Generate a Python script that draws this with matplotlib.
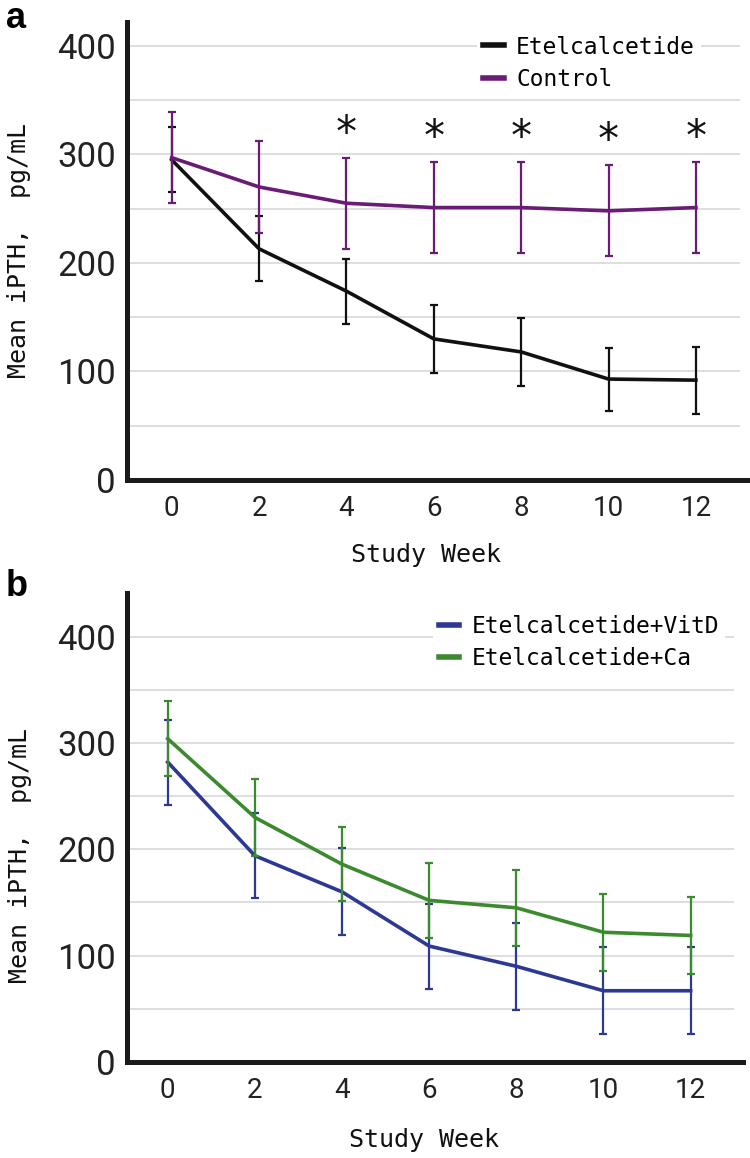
import matplotlib
matplotlib.use('Agg')
import matplotlib.pyplot as plt

weeks = [0, 2, 4, 6, 8, 10, 12]
week_ticks = [0, 2, 4, 6, 8, 10, 12]
y_ticks = [0, 100, 200, 300, 400]

# panel a
etel = [295, 213, 174, 130, 118, 93, 92]
etel_err = [30, 30, 30, 31, 31, 29, 31]
ctl = [297, 270, 255, 251, 251, 248, 251]
ctl_err = [42, 42, 42, 42, 42, 42, 42]
star_weeks = [4, 6, 8, 10, 12]

# panel b
vitd = [282, 194, 160, 109, 90, 67, 67]
vitd_err = [40, 40, 41, 40, 41, 41, 41]
ca = [304, 230, 186, 152, 145, 122, 119]
ca_err = [35, 36, 35, 35, 36, 36, 36]

MONO = ['DejaVu Sans Mono']
NARROW = ['Roboto', 'DejaVu Sans']


def drawSeries(ax, y, err, color, label, z):
	ax.errorbar(weeks, y, yerr=err, fmt='none', ecolor=color, elinewidth=1.6,
		capsize=2.6, capthick=1.6, zorder=z)
	line, = ax.plot(weeks, y, color=color, lw=2.6, label=label, zorder=z + 1,
		solid_joinstyle='round')
	return line


def styleAxes(ax, ylim, xlim):
	ax.set_xlim(*xlim)
	ax.set_ylim(*ylim)
	for s in ['top', 'right']:
		ax.spines[s].set_visible(False)
	for s in ['left', 'bottom']:
		ax.spines[s].set_linewidth(3.6)
		ax.spines[s].set_color('#1a1a1a')
		ax.spines[s].set_capstyle('projecting')
	ax.hlines(range(50, int(ylim[1]), 50), xlim[0], 13.0, colors='#d4d4d4',
		lw=1.1, zorder=0)
	ax.set_xticks(week_ticks)
	ax.set_yticks(y_ticks)
	ax.tick_params(length=0)
	ax.tick_params(axis='y', pad=8)
	ax.tick_params(axis='x', pad=11)
	for t in ax.get_yticklabels():
		t.set_family(NARROW)
		t.set_fontstretch('condensed')
		t.set_fontsize(25)
		t.set_color('#222222')
	for t in ax.get_xticklabels():
		t.set_family(NARROW)
		t.set_fontstretch('condensed')
		t.set_fontsize(20)
		t.set_color('#222222')


def addLegend(ax, handles, anchor):
	leg = ax.legend(handles=handles, loc='upper left', bbox_to_anchor=anchor,
		prop={'family': MONO, 'size': 16.5}, frameon=True, fancybox=False,
		handlelength=0.9, handletextpad=0.55, labelspacing=0.42, borderpad=0.25,
		borderaxespad=0)
	leg.get_frame().set_edgecolor('none')
	leg.get_frame().set_facecolor('white')
	leg.get_frame().set_alpha(1)
	for h in leg.legend_handles:
		h.set_linewidth(4)
	return leg


fig = plt.figure(figsize=(7.5, 11.58), dpi=100)

# --- panel a ---
axA = fig.add_axes([0.169, 0.5855, 0.827, 0.3955])
styleAxes(axA, (0, 422), (-1.03, 13.17))
lA1 = drawSeries(axA, etel, etel_err, '#111111', 'Etelcalcetide', 3)
lA2 = drawSeries(axA, ctl, ctl_err, '#6a1b76', 'Control', 5)
for w in star_weeks:
	i = weeks.index(w)
	axA.text(w, ctl[i] + ctl_err[i] + 22, '*', ha='center', va='center',
		fontsize=30, family=MONO, color='#111111')
addLegend(axA, [lA1, lA2], (0.565, 0.983))
axA.text(-0.173, 0.5, 'Mean iPTH,  pg/mL', transform=axA.transAxes, rotation=90,
	ha='center', va='center', family=MONO, fontsize=18, color='#111111')
axA.text(0.482, -0.164, 'Study Week', transform=axA.transAxes, ha='center',
	va='center', family=MONO, fontsize=18, color='#111111')

# --- panel b ---
axB = fig.add_axes([0.169, 0.0829, 0.821, 0.405])
styleAxes(axB, (0, 441), (-0.94, 13.19))
lB1 = drawSeries(axB, vitd, vitd_err, '#2c3892', 'Etelcalcetide+VitD', 3)
lB2 = drawSeries(axB, ca, ca_err, '#3c8a2e', 'Etelcalcetide+Ca', 5)
addLegend(axB, [lB1, lB2], (0.497, 0.966))
axB.text(-0.173, 0.44, 'Mean iPTH,  pg/mL', transform=axB.transAxes, rotation=90,
	ha='center', va='center', family=MONO, fontsize=18, color='#111111')
axB.text(0.482, -0.166, 'Study Week', transform=axB.transAxes, ha='center',
	va='center', family=MONO, fontsize=18, color='#111111')

fig.text(0.008, 0.999, 'a', ha='left', va='top', fontsize=26, fontweight='bold',
	family='Liberation Sans')
fig.text(0.008, 0.509, 'b', ha='left', va='top', fontsize=26, fontweight='bold',
	family='Liberation Sans')

fig.savefig('out.png', dpi=100)
